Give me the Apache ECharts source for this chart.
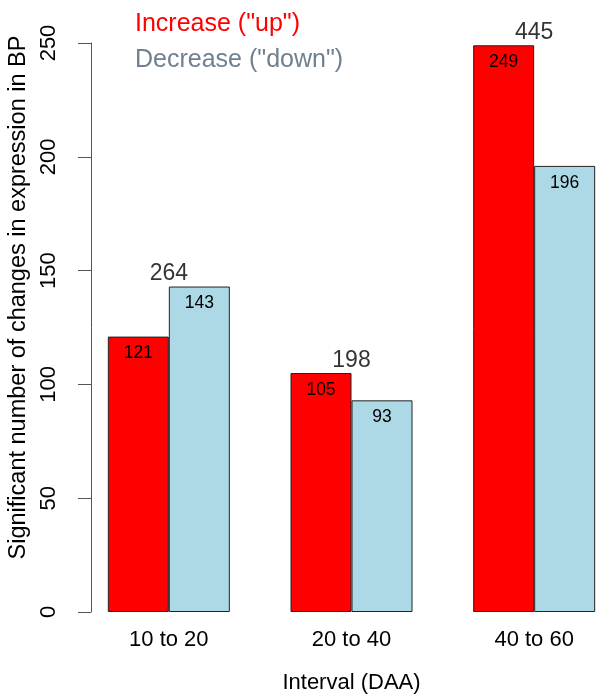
<!DOCTYPE html>
<html>
<head>
<meta charset="utf-8">
<script src="https://cdn.jsdelivr.net/npm/echarts@6/dist/echarts.min.js"></script>
<style>html,body{margin:0;padding:0;background:#fff}#c{width:600px;height:697px}</style>
</head>
<body>
<div id="c"></div>
<script>
const categories = ['10 to 20', '20 to 40', '40 to 60'];
const upValues = [121, 105, 249];
const downValues = [143, 93, 196];
const yTicks = [0, 50, 100, 150, 200, 250];
const upName = 'Increase ("up")';
const downName = 'Decrease ("down")';

const totals = categories.map((c, i) => upValues[i] + downValues[i]);
const tops = categories.map((c, i) => Math.max(upValues[i], downValues[i]));
const FONT = 'Liberation Sans, Arial, Helvetica, sans-serif';

const chart = echarts.init(document.getElementById('c'), null, {renderer: 'canvas'});
chart.setOption({
  animation: false,
  backgroundColor: '#ffffff',
  textStyle: {fontFamily: FONT},
  legend: {
    orient: 'vertical',
    left: 125,
    top: 7,
    itemWidth: 0,
    itemHeight: 0,
    itemGap: 11,
    icon: 'none',
    selectedMode: false,
    textStyle: {fontSize: 25, fontFamily: FONT},
    data: [
      {name: upName, textStyle: {color: '#ff0000'}},
      {name: downName, textStyle: {color: '#708090'}}
    ]
  },
  grid: {left: 77.5, top: 43, right: -25.5, bottom: 85, containLabel: false, outerBoundsMode: 'none'},
  xAxis: {
    type: 'category',
    data: categories,
    boundaryGap: true,
    axisLine: {show: false},
    axisTick: {show: false},
    axisLabel: {fontSize: 22, color: '#000', margin: 17, fontFamily: FONT},
    name: 'Interval (DAA)',
    nameLocation: 'middle',
    nameGap: 60,
    nameTextStyle: {fontSize: 22, color: '#000', fontFamily: FONT}
  },
  yAxis: {
    type: 'value',
    min: yTicks[0],
    max: yTicks[yTicks.length - 1],
    interval: yTicks[1] - yTicks[0],
    offset: -13.5,
    axisLine: {show: true, lineStyle: {color: '#555', width: 1}},
    axisTick: {show: true, inside: false, length: 13, lineStyle: {color: '#555', width: 1}},
    splitLine: {show: false},
    axisLabel: {fontSize: 22, color: '#000', rotate: 90, margin: 31, fontFamily: FONT},
    name: 'Significant number of changes in expression in BP',
    nameLocation: 'middle',
    nameGap: 58,
    nameTextStyle: {fontSize: 23.5, color: '#000', fontFamily: FONT, padding: [0, 0, 0, 60]}
  },
  series: [
    {
      name: upName,
      type: 'bar',
      data: upValues,
      barWidth: 61,
      barGap: '0%',
      itemStyle: {color: '#ff0000', borderColor: '#222', borderWidth: 1},
      label: {show: true, position: 'insideTop', distance: 8, fontSize: 17.5, color: '#000', fontFamily: FONT}
    },
    {
      name: downName,
      type: 'bar',
      data: downValues,
      barWidth: 61,
      barGap: '0%',
      itemStyle: {color: '#add8e6', borderColor: '#222', borderWidth: 1},
      label: {show: true, position: 'insideTop', distance: 8, fontSize: 17.5, color: '#000', fontFamily: FONT}
    },
    {
      name: 'Total',
      type: 'scatter',
      data: tops,
      symbolSize: 0,
      silent: true,
      label: {
        show: true,
        position: 'top',
        distance: 1,
        fontSize: 23,
        color: '#000',
        fontFamily: FONT,
        formatter: p => String(totals[p.dataIndex])
      }
    }
  ]
});
</script>
</body>
</html>
